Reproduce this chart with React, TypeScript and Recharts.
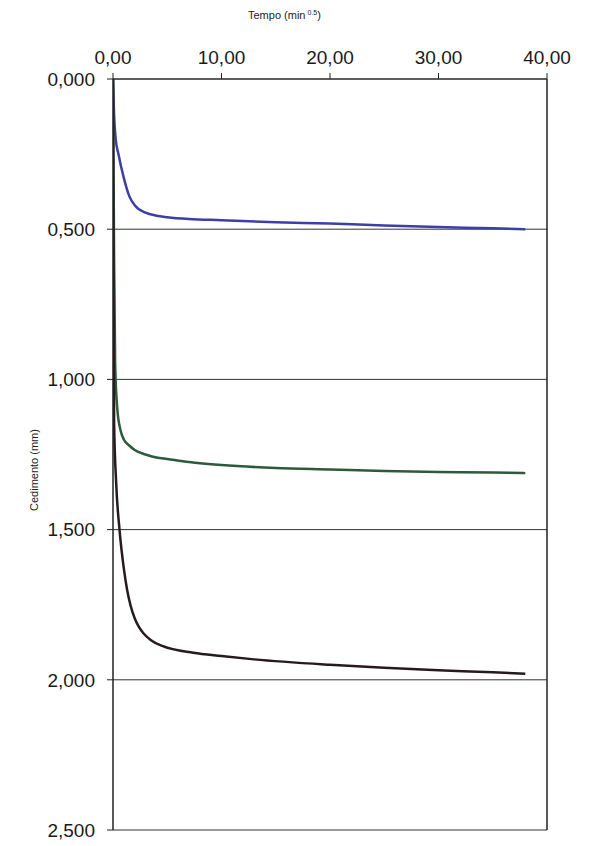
import { LineChart, Line, XAxis, YAxis, CartesianGrid, ReferenceLine, Label } from "recharts";

// tempo (min^0.5) and cedimento (mm) for each curve
const blueT = [0, 0.1, 0.25, 0.5, 1, 1.5, 2, 3, 4, 5, 7, 10, 15, 20, 25, 30, 35, 38];
const blueY = [0, 0.12, 0.2, 0.25, 0.33, 0.39, 0.42, 0.445, 0.455, 0.46, 0.466, 0.47, 0.477, 0.481, 0.488, 0.493, 0.497, 0.5];

const greenT = [0, 0.1, 0.2, 0.4, 0.7, 1, 1.5, 2, 3, 4, 5, 7, 10, 15, 20, 25, 30, 35, 38];
const greenY = [0, 0.6, 0.95, 1.1, 1.17, 1.2, 1.22, 1.235, 1.25, 1.26, 1.265, 1.275, 1.285, 1.295, 1.3, 1.305, 1.308, 1.31, 1.312];

const blackT = [0, 0.05, 0.1, 0.3, 0.6, 1, 1.3, 1.6, 2, 2.4, 2.8, 3.5, 4.6, 7.4, 10, 13, 20, 25, 30, 35, 38];
const blackY = [0, 0.7, 1.14, 1.35, 1.5, 1.63, 1.7, 1.75, 1.795, 1.825, 1.845, 1.868, 1.888, 1.91, 1.921, 1.932, 1.95, 1.96, 1.968, 1.975, 1.98];

const xTicks = [0, 10, 20, 30, 40];
const yTicks = [0, 0.5, 1, 1.5, 2, 2.5];

const toRows = (t: number[], y: number[]) => t.map((v, i) => ({ t: v, y: y[i] }));

const series = [
  { name: "blue", color: "#3d3fa6", rows: toRows(blueT, blueY) },
  { name: "green", color: "#2c5a3a", rows: toRows(greenT, greenY) },
  { name: "black", color: "#261a1f", rows: toRows(blackT, blackY) },
];

const tickFont = { fontSize: 19, fill: "#1a1a1a", fontFamily: "'Liberation Sans', Arial, sans-serif" };
const smallFont = "'Liberation Sans Narrow', 'Liberation Sans', Arial, sans-serif";

export default function App() {
  return (
    <div style={{ position: "absolute", left: 0, top: 0, width: 594, height: 846, background: "#fff" }}>
      <LineChart width={594} height={846} margin={{ top: 39, right: 47, left: 53, bottom: 16 }}>
        <CartesianGrid vertical={false} stroke="#333" strokeWidth={1} />
        <XAxis
          type="number"
          dataKey="t"
          orientation="top"
          domain={[0, 40]}
          ticks={xTicks}
          height={40}
          tick={tickFont}
          tickSize={6}
          tickMargin={9}
          tickFormatter={(v: number) => v.toFixed(2).replace(".", ",")}
          axisLine={{ stroke: "#222" }}
          tickLine={{ stroke: "#222" }}
          allowDataOverflow
        >
          <Label
            content={() => (
              <text x={248} y={19} fontSize={11} fontFamily={smallFont} fill="#222">
                Tempo (min
                <tspan dy={-4} fontSize={7}> 0.5</tspan>
                <tspan dy={4}>)</tspan>
              </text>
            )}
          />
        </XAxis>
        <YAxis
          type="number"
          dataKey="y"
          reversed
          domain={[0, 2.5]}
          ticks={yTicks}
          width={60}
          tick={tickFont}
          tickSize={6}
          tickMargin={12}
          tickFormatter={(v: number) => v.toFixed(3).replace(".", ",")}
          axisLine={{ stroke: "#222", strokeWidth: 1.5 }}
          tickLine={{ stroke: "#222" }}
          allowDataOverflow
        >
          <Label
            content={() => (
              <text
                x={38}
                y={470}
                transform="rotate(-90 38 470)"
                textAnchor="middle"
                fontSize={11}
                fontFamily={smallFont}
                fill="#222"
              >
                Cedimento (mm)
              </text>
            )}
          />
        </YAxis>
        <ReferenceLine x={40} stroke="#222" strokeWidth={1.5} />
        {series.map((s) => (
          <Line
            key={s.name}
            data={s.rows}
            dataKey="y"
            type="monotone"
            stroke={s.color}
            strokeWidth={2.5}
            dot={false}
            isAnimationActive={false}
          />
        ))}
      </LineChart>
    </div>
  );
}
